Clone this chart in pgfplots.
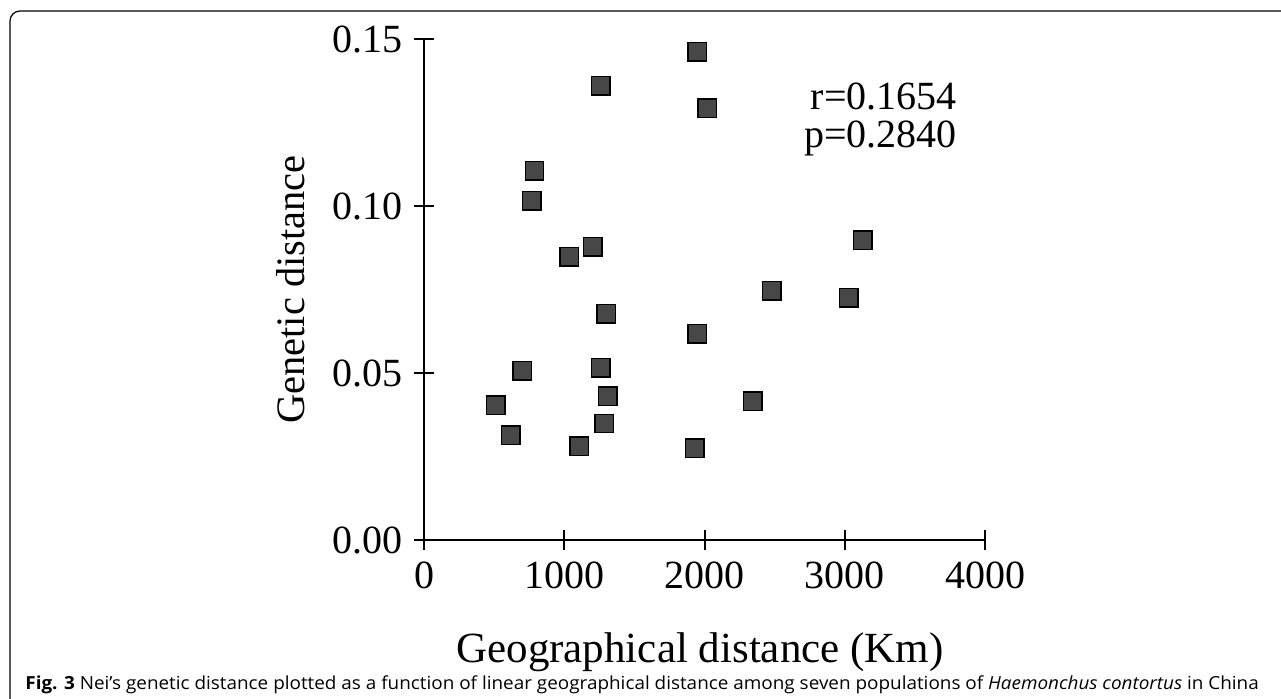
\documentclass[border=0pt]{standalone}
\usepackage{fontspec}
\setmainfont{Liberation Serif}
\newfontfamily\capfont{Open Sans}
\usepackage{pgfplots}
\pgfplotsset{compat=1.18}
\begin{document}
\begin{tikzpicture}
\path[use as bounding box] (0,0) rectangle (640.5bp,349.5bp);
\draw[line width=0.6bp, rounded corners=5bp] (5bp,-5bp) -- (5bp,344bp) -- (650bp,344bp);
\begin{axis}[
  at={(212.15bp,79.5bp)}, anchor=south west,
  scale only axis, width=280.35bp, height=250.5bp,
  xmin=0, xmax=4000, ymin=0, ymax=0.15,
  axis lines=left,
  axis line style={-, line width=1bp},
  xtick={0,1000,2000,3000,4000},
  ytick={0,0.05,0.1,0.15},
  tick align=center,
  major tick length=10bp,
  tick style={line width=1bp, black},
  /pgf/number format/assume math mode=true,
  scaled y ticks=false,
  yticklabel style={xshift=-2.5bp, /pgf/number format/.cd, fixed, fixed zerofill, precision=2},
  xticklabel style={yshift=-2.5bp, /pgf/number format/.cd, set thousands separator={}},
  tick label style={font=\fontsize{20bp}{22bp}\selectfont},
  xlabel={Geographical distance (Km)},
  ylabel={Genetic distance},
  xlabel style={font=\fontsize{21.5bp}{24bp}\selectfont, at={(axis description cs:0.4917,-0.245)}, anchor=base},
  ylabel style={font=\fontsize{20.2bp}{24bp}\selectfont, at={(axis description cs:-0.2128,0.5)}, anchor=base},
  clip=false,
]
\addplot[only marks, mark=square*, mark size=4.6bp,
  mark options={fill=black!72, draw=black, line width=0.7bp}]
coordinates {
(1948,0.1462) (1258,0.1360) (2019,0.1293) (786,0.1105) (768,0.1015)
(1201,0.0878) (1034,0.0848) (3127,0.0898) (2478,0.0746) (3028,0.0725)
(1298,0.0677) (1948,0.0617) (697,0.0506) (1258,0.0516) (1310,0.0431)
(511,0.0403) (1282,0.0349) (616,0.0314) (1106,0.0281) (1931,0.0275)
(2343,0.0416)
};
\node[anchor=base east, inner sep=0pt, font=\fontsize{20bp}{22bp}\selectfont] at (axis cs:3800,0.129) {r=0.1654};
\node[anchor=base east, inner sep=0pt, font=\fontsize{20bp}{22bp}\selectfont] at (axis cs:3800,0.1174) {p=0.2840};
\end{axis}
\node[anchor=base west, inner sep=0pt] at (12.5bp,5bp)
  {\scalebox{1.05}[1]{\capfont\fontsize{9bp}{11bp}\selectfont\textbf{Fig. 3} Nei’s genetic distance plotted as a function of linear geographical distance among seven populations of \textit{Haemonchus contortus} in China}};
\end{tikzpicture}
\end{document}
